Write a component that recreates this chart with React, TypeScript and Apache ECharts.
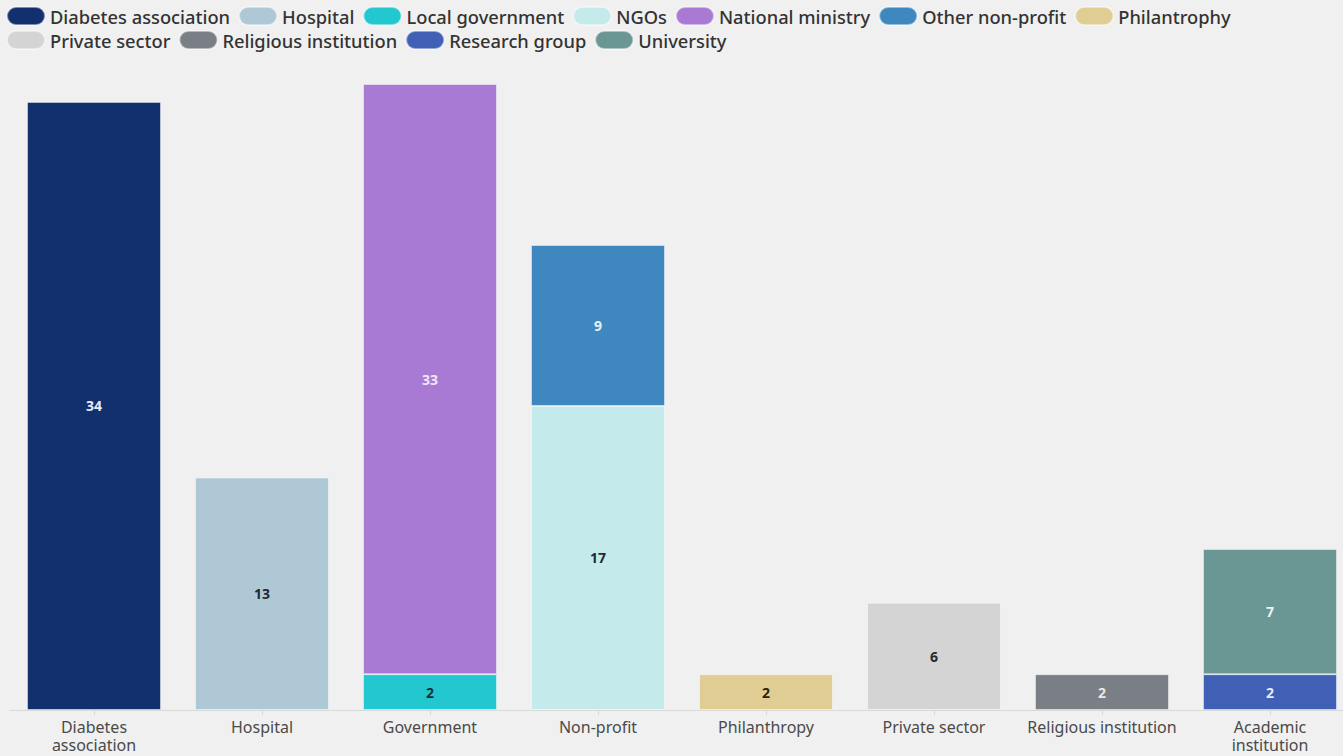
import React, { useEffect, useRef } from "react";
import * as echarts from "echarts";

const categories = [
  "Diabetes\nassociation",
  "Hospital",
  "Government",
  "Non-profit",
  "Philanthropy",
  "Private sector",
  "Religious institution",
  "Academic\ninstitution",
];

const seriesNames = [
  "Diabetes association",
  "Hospital",
  "Local government",
  "NGOs",
  "National ministry",
  "Other non-profit",
  "Philantrophy",
  "Private sector",
  "Religious institution",
  "Research group",
  "University",
];

// value per series, and the category index it belongs to
const seriesValues = [34, 13, 2, 17, 33, 9, 2, 6, 2, 2, 7];
const seriesCategory = [0, 1, 2, 3, 2, 3, 4, 5, 6, 7, 7];

const seriesColors = [
  "#13306e",
  "#aec8d5",
  "#22c7d0",
  "#c5eaec",
  "#a97ad4",
  "#3f87bf",
  "#dfcd93",
  "#d4d4d4",
  "#7a7f85",
  "#3f60b5",
  "#6a9694",
];

const labelColors = [
  "#e6ebf5",
  "#1e2a33",
  "#123238",
  "#1e2a33",
  "#efe6fa",
  "#e6eef8",
  "#2a2410",
  "#2a2a2a",
  "#e8e8e8",
  "#e6ecf8",
  "#eef4f3",
];

export default function App() {
  const ref = useRef<HTMLDivElement>(null);

  useEffect(() => {
    if (!ref.current) return;
    const chart = echarts.init(ref.current, null, { renderer: "svg" });
    const series = seriesNames.map((name, i) => {
      const data = categories.map((_, c) =>
        c === seriesCategory[i] ? seriesValues[i] : "-"
      );
      return {
        name,
        type: "bar",
        stack: "total",
        barWidth: 134,
        data,
        itemStyle: {
          color: seriesColors[i],
          borderColor: "rgba(255,255,255,0.45)",
          borderWidth: 1,
        },
        label: {
          show: true,
          position: "inside",
          color: labelColors[i],
          fontFamily: "Noto Sans",
          fontWeight: "bold",
          fontSize: 14,
        },
      };
    });

    chart.setOption({
      animation: false,
      backgroundColor: "#f0f0f0",
      legend: {
        left: 1,
        top: 1,
        right: 0,
        itemWidth: 38,
        itemHeight: 18,
        itemGap: 4,
        icon: "path://M9,0 H29 A9,9 0 0 1 29,18 H9 A9,9 0 0 1 9,0 Z",
        textStyle: {
          fontFamily: "Noto Sans",
          fontSize: 18.3,
          fontWeight: 500,
          lineHeight: 16,
          padding: [0, 4, 0, 0],
          color: "#333333",
        },
        data: seriesNames,
      },
      grid: {
        left: 10,
        width: 1344,
        top: 84,
        bottom: 46,
        outerBoundsMode: "none",
        containLabel: false,
      },
      xAxis: {
        type: "category",
        data: categories,
        axisLine: { lineStyle: { color: "#d9d9d9", width: 1 } },
        axisTick: {
          show: true,
          alignWithLabel: true,
          length: 5,
          lineStyle: { color: "#d9d9d9" },
        },
        axisLabel: {
          interval: 0,
          margin: 8,
          fontFamily: "Noto Sans",
          fontSize: 16,
          lineHeight: 18,
          color: "#4a4a4a",
        },
      },
      yAxis: {
        type: "value",
        min: 0,
        max: 35,
        show: false,
        splitLine: { show: false },
      },
      series,
    });
    return () => chart.dispose();
  }, []);

  return (
    <div
      ref={ref}
      style={{
        position: "fixed",
        left: 0,
        top: 0,
        width: 1343,
        height: 756,
      }}
    />
  );
}
